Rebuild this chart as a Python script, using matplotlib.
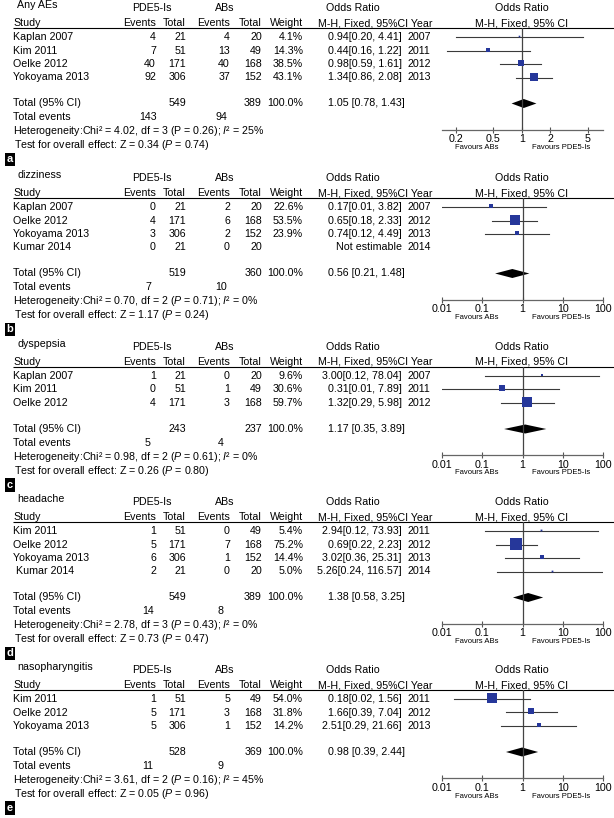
import matplotlib.pyplot as plt
from matplotlib.ticker import NullLocator

plt.rcParams['font.family'] = ['Liberation Sans', 'DejaVu Sans']
plt.rcParams['mathtext.fontset'] = 'custom'
plt.rcParams['mathtext.rm'] = 'Liberation Sans'
plt.rcParams['mathtext.it'] = 'Liberation Sans:italic'

# ---- data ----
a_title = 'Any AEs'
a_studies = ['Kaplan 2007', 'Kim 2011', 'Oelke 2012', 'Yokoyama 2013']
a_ev1 = [4, 7, 40, 92]
a_n1 = [21, 51, 171, 306]
a_ev2 = [4, 13, 40, 37]
a_n2 = [20, 49, 168, 152]
a_weight = [4.1, 14.3, 38.5, 43.1]
a_or = [0.94, 0.44, 0.98, 1.34]
a_lo = [0.20, 0.16, 0.59, 0.86]
a_hi = [4.41, 1.22, 1.61, 2.08]
a_total = [549, 389, 143, 94, 1.05, 0.78, 1.43]
a_het = [4.02, 3, 0.26, 25, 0.34, 0.74]

b_title = 'dizziness'
b_studies = ['Kaplan 2007', 'Oelke 2012', 'Yokoyama 2013', 'Kumar 2014']
b_ev1 = [0, 4, 3, 0]
b_n1 = [21, 171, 306, 21]
b_ev2 = [2, 6, 2, 0]
b_n2 = [20, 168, 152, 20]
b_weight = [22.6, 53.5, 23.9, None]
b_or = [0.17, 0.65, 0.74, None]
b_lo = [0.01, 0.18, 0.12, None]
b_hi = [3.82, 2.33, 4.49, None]
b_total = [519, 360, 7, 10, 0.56, 0.21, 1.48]
b_het = [0.70, 2, 0.71, 0, 1.17, 0.24]

c_title = 'dyspepsia'
c_studies = ['Kaplan 2007', 'Kim 2011', 'Oelke 2012']
c_ev1 = [1, 0, 4]
c_n1 = [21, 51, 171]
c_ev2 = [0, 1, 3]
c_n2 = [20, 49, 168]
c_weight = [9.6, 30.6, 59.7]
c_or = [3.00, 0.31, 1.32]
c_lo = [0.12, 0.01, 0.29]
c_hi = [78.04, 7.89, 5.98]
c_total = [243, 237, 5, 4, 1.17, 0.35, 3.89]
c_het = [0.98, 2, 0.61, 0, 0.26, 0.80]

d_title = 'headache'
d_studies = ['Kim 2011', 'Oelke 2012', 'Yokoyama 2013', ' Kumar 2014']
d_ev1 = [1, 5, 6, 2]
d_n1 = [51, 171, 306, 21]
d_ev2 = [0, 7, 1, 0]
d_n2 = [49, 168, 152, 20]
d_weight = [5.4, 75.2, 14.4, 5.0]
d_or = [2.94, 0.69, 3.02, 5.26]
d_lo = [0.12, 0.22, 0.36, 0.24]
d_hi = [73.93, 2.23, 25.31, 116.57]
d_total = [549, 389, 14, 8, 1.38, 0.58, 3.25]
d_het = [2.78, 3, 0.43, 0, 0.73, 0.47]

e_title = 'nasopharyngitis'
e_studies = ['Kim 2011', 'Oelke 2012', 'Yokoyama 2013']
e_ev1 = [1, 5, 5]
e_n1 = [51, 171, 306]
e_ev2 = [5, 3, 1]
e_n2 = [49, 168, 152]
e_weight = [54.0, 31.8, 14.2]
e_or = [0.18, 1.66, 2.51]
e_lo = [0.02, 0.39, 0.29]
e_hi = [1.56, 7.04, 21.66]
e_total = [528, 369, 11, 9, 0.98, 0.39, 2.44]
e_het = [3.61, 2, 0.16, 45, 0.05, 0.96]

ticks_a = [0.2, 0.5, 1, 2, 5]
ticks_wide = [0.01, 0.1, 1, 10, 100]

panels = [
    ('a', a_title, a_studies, a_ev1, a_n1, a_ev2, a_n2, a_weight, a_or, a_lo, a_hi, a_total, a_het, ticks_a, 23),
    ('b', b_title, b_studies, b_ev1, b_n1, b_ev2, b_n2, b_weight, b_or, b_lo, b_hi, b_total, b_het, ticks_wide, 193),
    ('c', c_title, c_studies, c_ev1, c_n1, c_ev2, c_n2, c_weight, c_or, c_lo, c_hi, c_total, c_het, ticks_wide, 362),
    ('d', d_title, d_studies, d_ev1, d_n1, d_ev2, d_n2, d_weight, d_or, d_lo, d_hi, d_total, d_het, ticks_wide, 517),
    ('e', e_title, e_studies, e_ev1, e_n1, e_ev2, e_n2, e_weight, e_or, e_lo, e_hi, e_total, e_het, ticks_wide, 685),
]

W, H = 614, 818
fig = plt.figure(figsize=(W / 100, H / 100), dpi=100)
tx = fig.add_axes([0, 0, 1, 1])
tx.set_xlim(0, W)
tx.set_ylim(H, 0)
tx.axis('off')

FS = 7.7
SQ = '#26379a'
AX_L, AX_R = 441.7, 603.3

for (lab, title, studies, ev1, n1, ev2, n2, weight, odds, lo, hi, total, het, ticks, top) in panels:
    # headers
    tx.text(17, top - 18, title, fontsize=FS, va='center')
    tx.text(152, top - 15, 'PDE5-Is', fontsize=FS, va='center', ha='center')
    tx.text(225, top - 15, 'ABs', fontsize=FS, va='center', ha='center')
    tx.text(353, top - 15, 'Odds Ratio', fontsize=FS, va='center', ha='center')
    tx.text(522, top - 15, 'Odds Ratio', fontsize=FS, va='center', ha='center')
    tx.text(13, top, 'Study', fontsize=FS, va='center')
    for x, s in [(156, 'Events'), (186, 'Total'), (230, 'Events'), (262, 'Total'), (303, 'Weight')]:
        tx.text(x, top, s, fontsize=FS, va='center', ha='right')
    tx.text(318, top, 'M-H, Fixed, 95%CI Year', fontsize=FS, va='center')
    tx.text(522, top, 'M-H, Fixed, 95% CI', fontsize=FS, va='center', ha='center')
    line_y = top + 5
    tx.hlines(line_y, 13, W, color='black', lw=0.8)

    rows = [top + 13.5 * (i + 1) + 0.5 for i in range(len(studies))]
    for i, y in enumerate(rows):
        tx.text(13, y, studies[i], fontsize=FS, va='center')
        tx.text(156, y, str(ev1[i]), fontsize=FS, va='center', ha='right')
        tx.text(186, y, str(n1[i]), fontsize=FS, va='center', ha='right')
        tx.text(230, y, str(ev2[i]), fontsize=FS, va='center', ha='right')
        tx.text(262, y, str(n2[i]), fontsize=FS, va='center', ha='right')
        if weight[i] is not None:
            tx.text(303, y, f'{weight[i]:.1f}%', fontsize=FS, va='center', ha='right')
            ci = f'{odds[i]:.2f}[{lo[i]:.2f}, {hi[i]:.2f}]'
        else:
            ci = 'Not estimable'
        tx.text(402, y, ci, fontsize=FS, va='center', ha='right')
        tx.text(408, y, studies[i].split()[-1], fontsize=FS, va='center')

    ty = rows[-1] + 26
    tx.text(13, ty, 'Total (95% CI)', fontsize=FS, va='center')
    tx.text(186, ty, str(total[0]), fontsize=FS, va='center', ha='right')
    tx.text(262, ty, str(total[1]), fontsize=FS, va='center', ha='right')
    tx.text(303, ty, '100.0%', fontsize=FS, va='center', ha='right')
    tx.text(328, ty, f'{total[4]:.2f} [{total[5]:.2f}, {total[6]:.2f}]', fontsize=FS, va='center')
    tx.text(13, ty + 14, 'Total events', fontsize=FS, va='center')
    tx.text(148, ty + 14, str(total[2]), fontsize=FS, va='center', ha='center')
    tx.text(221, ty + 14, str(total[3]), fontsize=FS, va='center', ha='center')
    p_txt = 'P' if lab == 'a' else '$P$'
    tx.text(13, ty + 28, f'Heterogeneity:Chi\u00b2 = {het[0]:.2f}, df = {het[1]} ({p_txt} = {het[2]:.2f}); $I$\u00b2 = {het[3]}%',
            fontsize=FS, va='center')
    tx.text(14, ty + 42, f'Test for overall effect: Z = {het[4]:.2f} ($P$ = {het[5]:.2f})', fontsize=FS, va='center')
    tx.text(10, ty + 56, lab, fontsize=8, color='white', fontweight='bold', ha='center', va='center',
            bbox=dict(facecolor='black', edgecolor='none', boxstyle='square,pad=0.15'))

    # forest plot
    axis_y = ty + 26
    ax = fig.add_axes([AX_L / W, 1 - axis_y / H, (AX_R - AX_L) / W, (axis_y - line_y) / H])
    ax.set_xscale('log')
    if lab == 'a':
        ax.set_xlim(0.142, 7.3)
    else:
        ax.set_xlim(0.01, 100)
    ax.set_ylim(axis_y, line_y)
    ax.patch.set_alpha(0)
    for s in ['top', 'left', 'right']:
        ax.spines[s].set_visible(False)
    ax.spines['bottom'].set_color('#666666')
    ax.spines['bottom'].set_linewidth(0.9)
    ax.set_xticks(ticks)
    ax.set_xticklabels([f'{t:g}' for t in ticks])
    ax.xaxis.set_minor_locator(NullLocator())
    ax.set_yticks([])
    ax.tick_params(axis='x', direction='inout', length=5, width=0.8, color='#555555', labelsize=FS, pad=1)
    ax.axvline(1, color='#444444', lw=0.9)

    for i, y in enumerate(rows):
        if odds[i] is None:
            continue
        ax.plot([lo[i], hi[i]], [y, y], color='#3a3a3a', lw=0.8)
        side = 0.15 * weight[i] + 1
        ax.plot(odds[i], y - 1, marker='s', ms=side * 0.72, color=SQ, mec=SQ, mew=0)
    ax.fill([total[5], total[4], total[6], total[4]], [ty, ty - 4.5, ty, ty + 4.5], color='black', lw=0)

    tx.text(477, axis_y + 18, 'Favours ABs', fontsize=5.5, ha='center', va='center')
    tx.text(561, axis_y + 18, 'Favours PDE5-Is', fontsize=5.5, ha='center', va='center')

fig.savefig('out.png', dpi=100)
